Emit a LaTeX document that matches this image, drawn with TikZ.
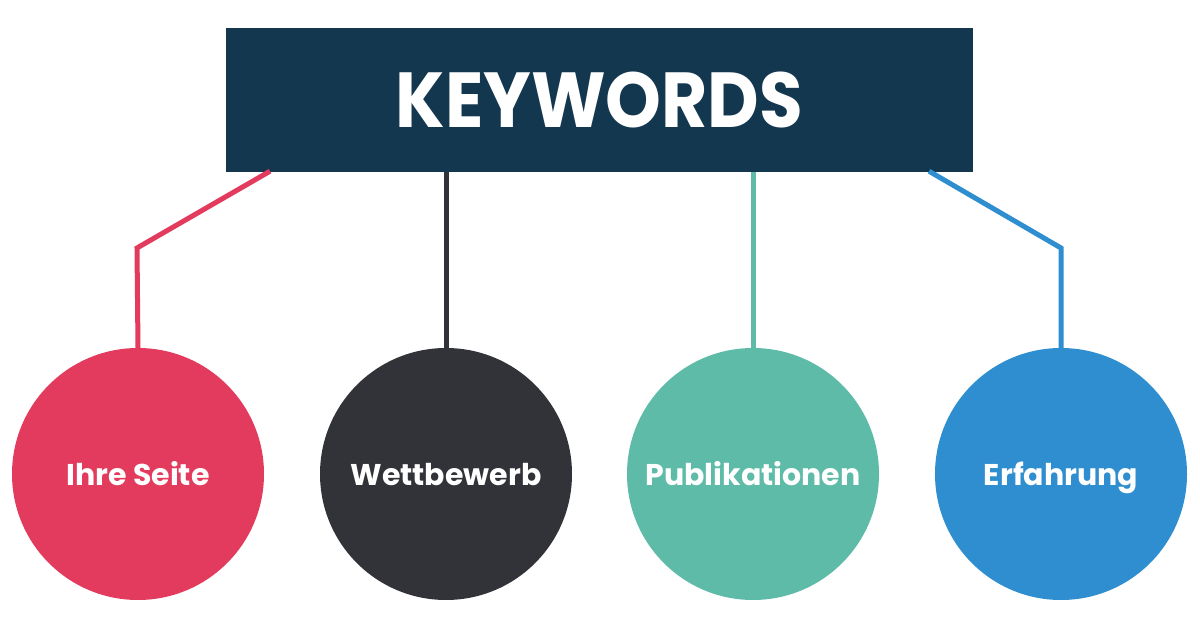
\documentclass[tikz,border=0pt]{standalone}
\usepackage{fontspec}
\setmainfont{Poppins}
\definecolor{boxblue}{HTML}{12374F}
\definecolor{cred}{HTML}{E33B5E}
\definecolor{cdark}{HTML}{323338}
\definecolor{cteal}{HTML}{5EBBA8}
\definecolor{cblue}{HTML}{2F8ECF}
\begin{document}
\begin{tikzpicture}[x=1pt,y=-1pt,
  bubble/.style={circle,minimum size=252pt,inner sep=0pt,text=white,
    text height=22pt,text depth=0pt,font=\fontsize{30}{34}\selectfont\bfseries},
  link/.style={line width=5pt}]
\useasboundingbox[fill=white] (0,0) rectangle (1200,628);
\node[fill=boxblue,minimum width=747pt,minimum height=144pt,inner sep=0pt,text=white,
  font=\fontsize{78}{80}\selectfont\bfseries] (kw) at (599.5,100) {\scalebox{0.91}[1]{KEYWORDS}};
\node[bubble,fill=cred] (c1) at (138,474) {Ihre Seite};
\node[bubble,fill=cdark] (c2) at (446,474) {Wettbewerb};
\node[bubble,fill=cteal] (c3) at (753,474) {Publikationen};
\node[bubble,fill=cblue] (c4) at (1061,474) {Erfahrung};
\coordinate (b1) at (137,248);
\coordinate (b4) at (1061,248);
\draw[link,cred] (kw.south west -| 270,0) ++(0,-1) -- (b1) -- (c1.north);
\draw[link,cdark] (c2.north) -- (c2.north |- kw.south);
\draw[link,cteal] (c3.north) -- (c3.north |- kw.south);
\draw[link,cblue] (kw.south west -| 929,0) ++(0,-1) -- (b4) -- (c4.north);
\end{tikzpicture}
\end{document}
